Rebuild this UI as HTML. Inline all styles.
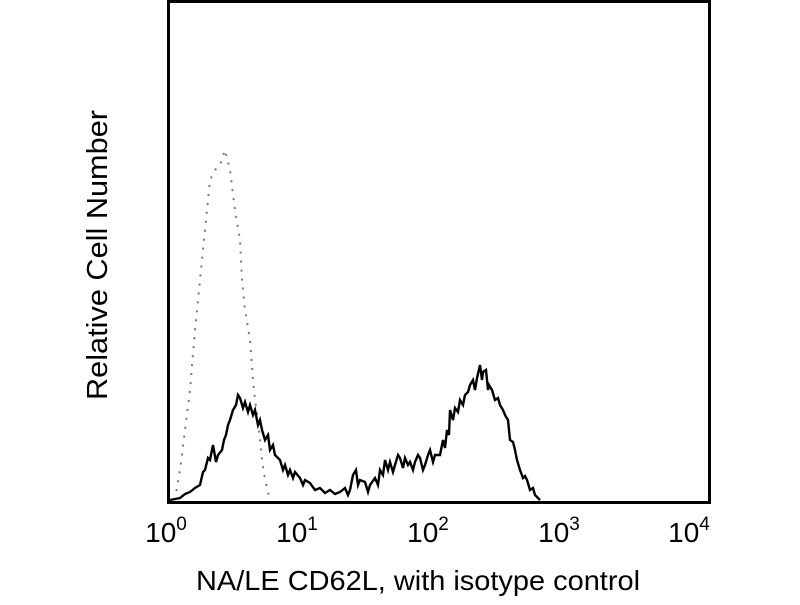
<!DOCTYPE html>
<html><head><style>
body{margin:0;background:#fff;width:800px;height:600px;overflow:hidden;font-family:"Liberation Sans",Arial,sans-serif}
</style></head><body>
<svg width="800" height="600" xmlns="http://www.w3.org/2000/svg" font-family="Liberation Sans, Arial, sans-serif">
<rect x="168.5" y="1.5" width="541" height="501" fill="none" stroke="#000" stroke-width="3"/>
<polyline fill="none" stroke="#777" stroke-width="2" stroke-dasharray="2,7" points="175,500 180,470 185,430 190,390 195,330 200,280 205,230 210,180 215,170 220,165 225,150 230,170 235,210 240,240 242,280 245,310 250,340 253,380 255,400 258,420 262,460 265,480 270,500"/>
<polyline fill="none" stroke="#000" stroke-width="2.4" stroke-linejoin="miter" points="170,500 180,498 185,494 190,492 195,488 200,485 203,472 205,470 208,458 210,460 213,445 216,462 218,455 222,450 224,440 226,435 228,425 230,420 233,410 236,405 238,395 240,398 243,408 245,402 248,412 250,405 253,415 255,410 258,425 260,420 262,430 265,440 268,435 270,450 273,445 275,455 278,458 280,460 283,470 285,465 288,475 290,470 293,478 295,472 300,478 303,485 305,480 310,483 315,490 320,488 325,493 330,490 335,494 340,492 345,488 348,495 350,490 353,475 356,470 358,485 360,480 365,482 368,492 370,485 375,478 378,485 380,470 383,475 385,460 388,470 390,462 393,472 395,465 398,455 400,458 403,468 405,458 408,465 410,462 413,470 415,462 418,455 420,458 423,470 425,465 428,455 430,450 433,462 435,455 440,455 443,440 445,448 447,430 449,435 450,410 453,420 455,408 458,412 460,400 463,405 465,395 468,392 470,385 473,380 475,390 477,378 480,365 482,380 483,372 486,370 488,390 489,385 492,390 495,400 498,398 500,405 503,410 505,415 508,420 510,440 513,442 515,450 517,460 520,470 523,478 525,476 527,480 530,490 533,488 535,495 540,500"/>
<g fill="#000" text-anchor="middle">
<g font-size="28">
<text x="166" y="542">10<tspan dy="-12" font-size="19">0</tspan></text>
<text x="297" y="542">10<tspan dy="-12" font-size="19">1</tspan></text>
<text x="428" y="542">10<tspan dy="-12" font-size="19">2</tspan></text>
<text x="559" y="542">10<tspan dy="-12" font-size="19">3</tspan></text>
<text x="689" y="542">10<tspan dy="-12" font-size="19">4</tspan></text>
</g>
<text x="418" y="590" font-size="28" textLength="444" lengthAdjust="spacingAndGlyphs">NA/LE CD62L, with isotype control</text>
<text transform="translate(107,255) rotate(-90)" font-size="29" textLength="290" lengthAdjust="spacingAndGlyphs">Relative Cell Number</text>
</g>
</svg>
</body></html>
